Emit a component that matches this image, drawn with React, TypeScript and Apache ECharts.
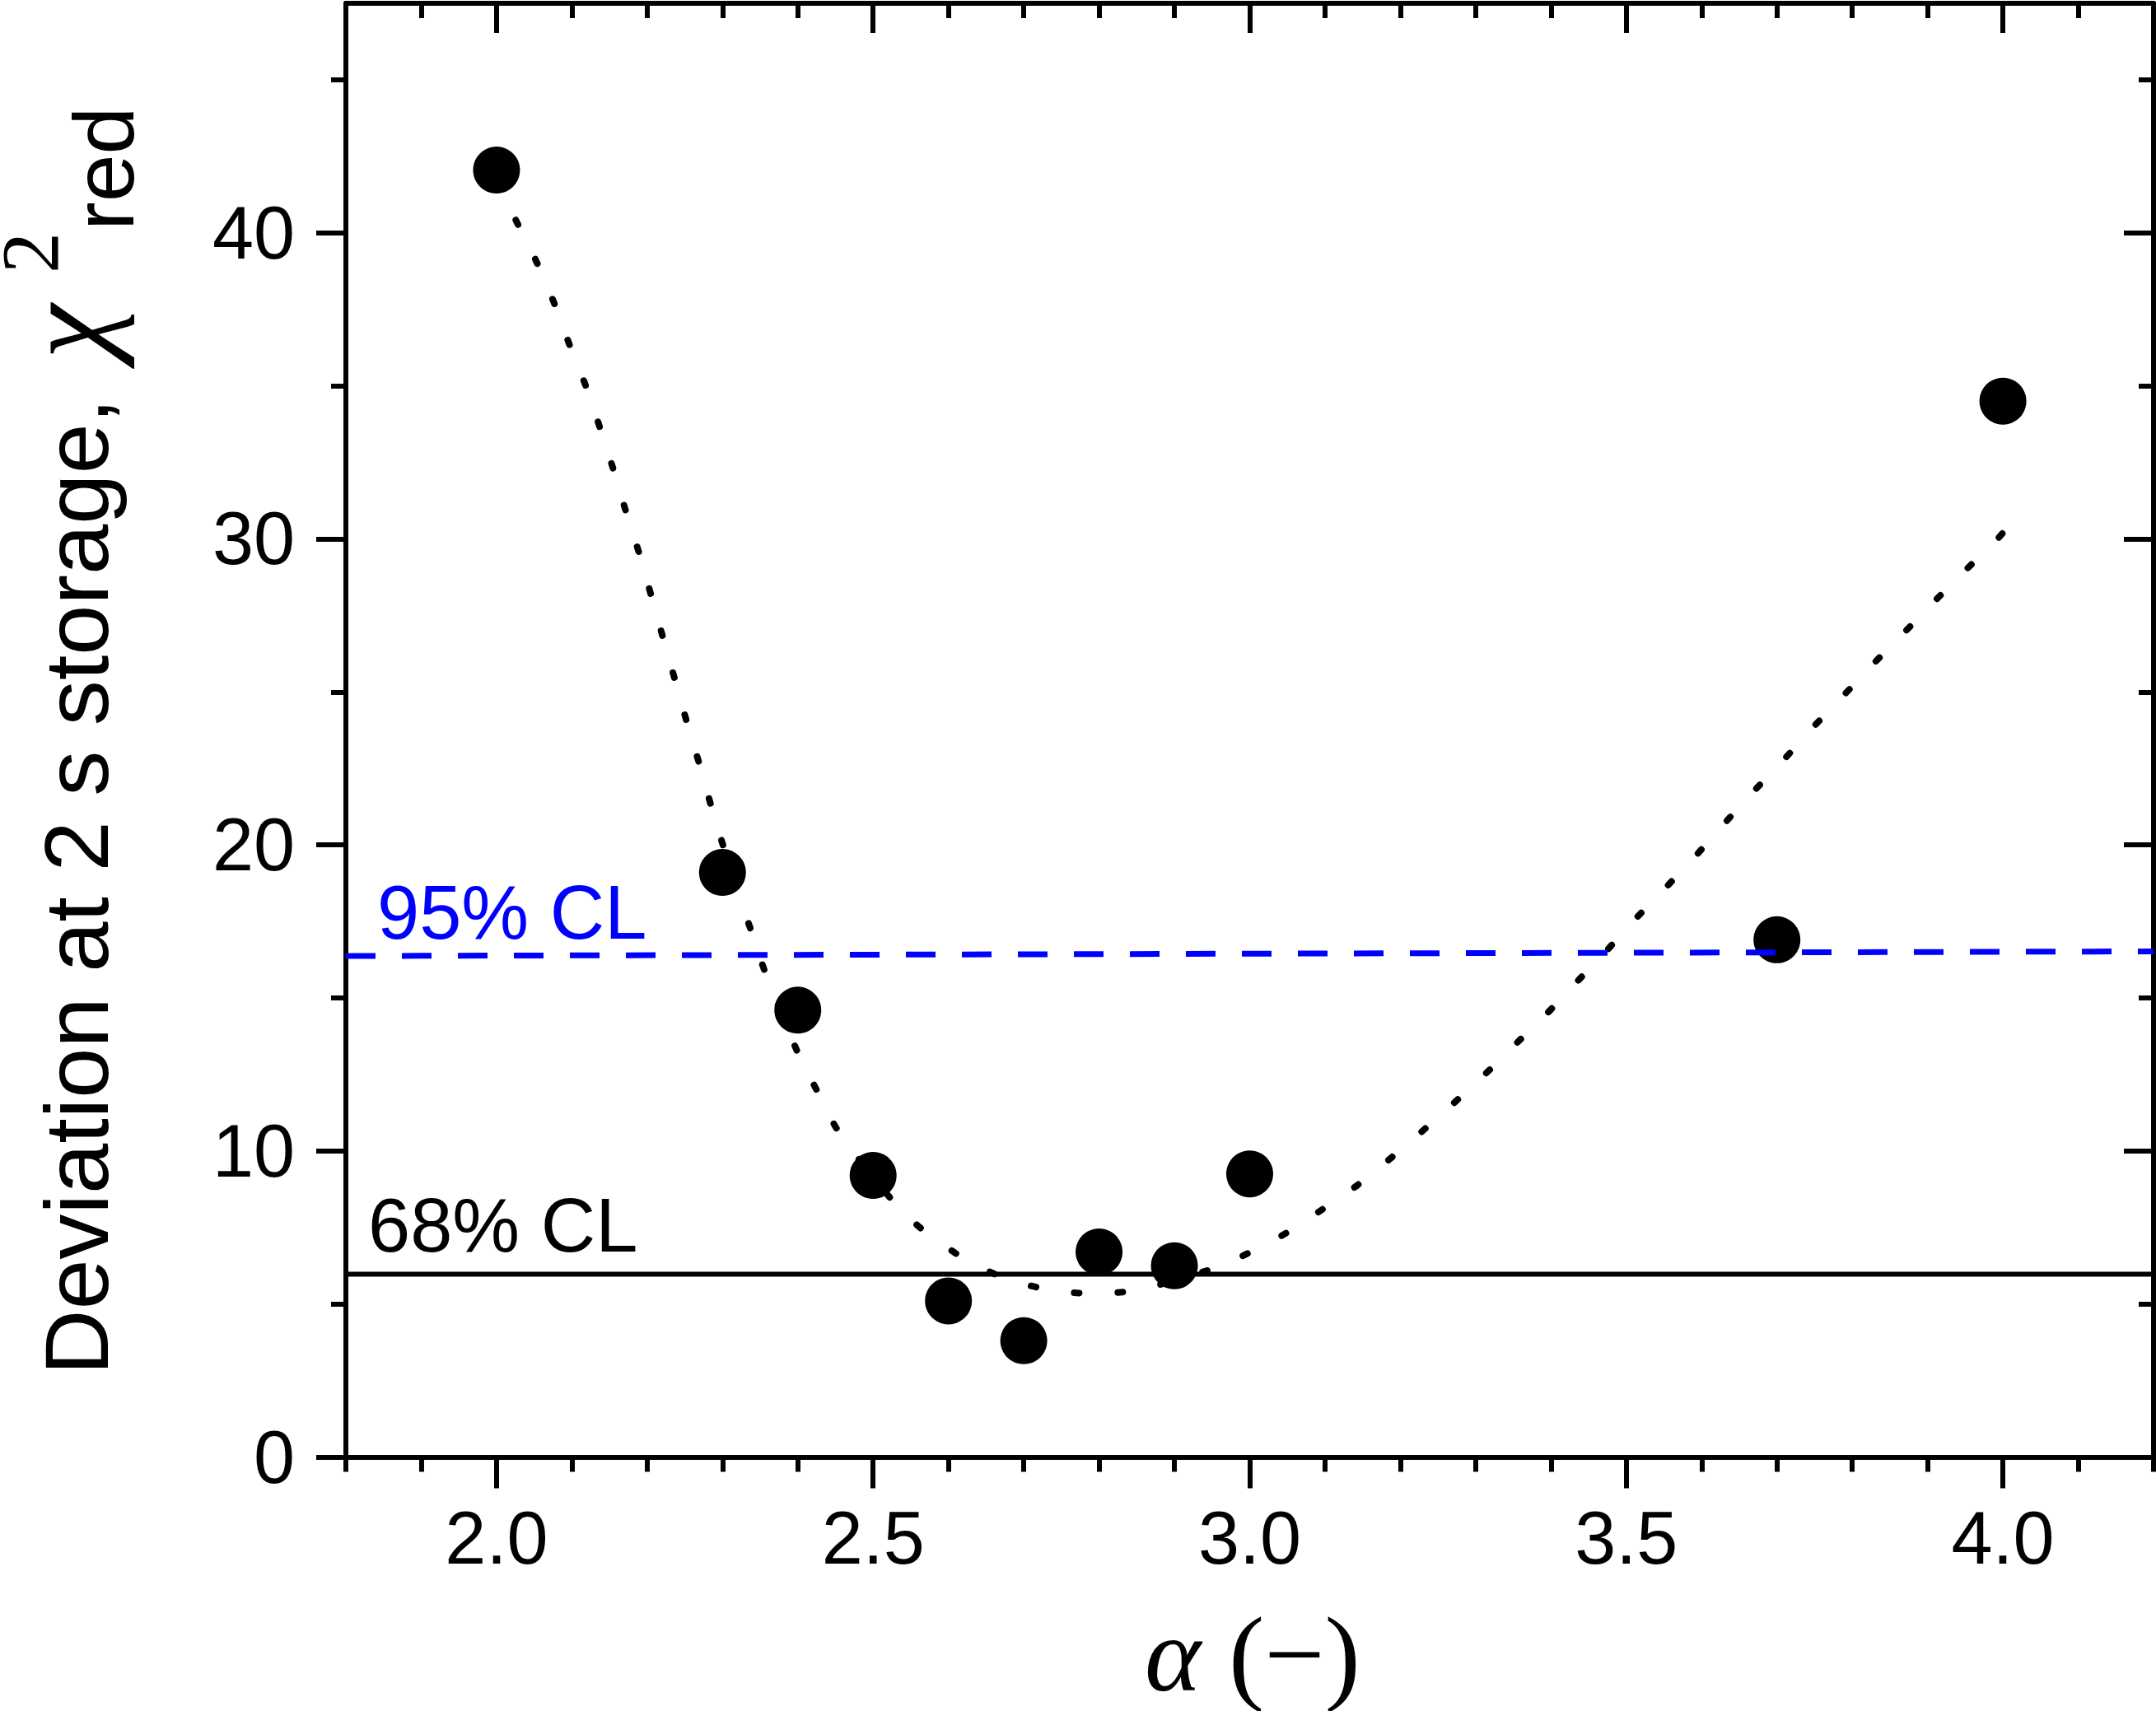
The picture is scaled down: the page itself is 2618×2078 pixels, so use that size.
import React, { useEffect, useRef } from 'react';
import * as echarts from 'echarts';

// Measured data points (alpha, reduced chi^2)
const ALPHA = [2.0, 2.3, 2.4, 2.5, 2.6, 2.7, 2.8, 2.9, 3.0, 3.7, 4.0];
const CHI2 = [42.05, 19.1, 14.6, 9.2, 5.1, 3.8, 6.7, 6.25, 9.25, 16.9, 34.5];

// Dotted fit curve
const FIT_X = [2.0, 2.03, 2.056, 2.079, 2.099, 2.12, 2.139, 2.156, 2.173, 2.191, 2.207, 2.223, 2.238, 2.254, 2.271, 2.287, 2.321, 2.338, 2.358, 2.402, 2.427, 2.455, 2.525, 2.567, 2.62, 2.669, 2.726, 2.784, 2.842, 2.952, 3.003, 3.052, 3.097, 3.144, 3.191, 3.234, 3.277, 3.319, 3.36, 3.395, 3.435, 3.474, 3.514, 3.553, 3.592, 3.631, 3.671, 3.71, 3.749, 3.788, 3.827, 3.869, 3.912, 3.951, 3.993, 4.0];
const FIT_Y = [41.7, 40.2, 38.9, 37.55, 36.2, 34.9, 33.5, 32.2, 30.8, 29.4, 28.0, 26.6, 25.3, 23.9, 22.5, 21.1, 18.4, 17.2, 15.75, 13.1, 11.9, 10.6, 8.4, 7.4, 6.5, 5.9, 5.5, 5.35, 5.42, 6.16, 6.72, 7.37, 8.1, 8.9, 9.84, 10.75, 11.7, 12.66, 13.66, 14.5, 15.54, 16.55, 17.63, 18.62, 19.64, 20.72, 21.8, 22.81, 23.87, 24.87, 25.89, 26.94, 28.03, 28.99, 30.0, 30.2];

// Confidence-level lines
const CL68_X = [1.8, 4.2];
const CL68_Y = [5.97, 5.97];
const CL95_X = [1.8, 4.2];
const CL95_Y = [16.37, 16.52];

// Axes
const X_MIN = 1.8;
const X_MAX = 4.2;
const Y_MIN = 0;
const Y_MAX = 47.5;
const X_MAJOR = [2.0, 2.5, 3.0, 3.5, 4.0];
const X_MINOR = [1.8, 1.9, 2.1, 2.2, 2.3, 2.4, 2.6, 2.7, 2.8, 2.9, 3.1, 3.2, 3.3, 3.4, 3.6, 3.7, 3.8, 3.9, 4.1, 4.2];
const Y_MAJOR = [0, 10, 20, 30, 40];
const Y_MINOR = [5, 15, 25, 35, 45];

const SANS = '"Liberation Sans", Arial, sans-serif';
const SERIF = '"Liberation Serif", "Times New Roman", serif';
const AX = '#000';
const LW = 6;

function axis(kind: 'x' | 'y', position: string, values: number[], len: number, inside: boolean, showLine: boolean, labels: boolean) {
  const isX = kind === 'x';
  return {
    type: 'value',
    position,
    min: isX ? X_MIN : Y_MIN,
    max: isX ? X_MAX : Y_MAX,
    axisLine: { show: showLine, onZero: false, lineStyle: { color: AX, width: LW } },
    axisTick: { show: true, inside, length: len, customValues: values, lineStyle: { color: AX, width: LW } },
    axisLabel: labels
      ? {
          show: true,
          customValues: values,
          formatter: (v: number) => (isX ? v.toFixed(1) : String(v)),
          margin: isX ? 53 : 62,
          fontSize: 90,
          fontFamily: SANS,
          color: '#000',
        }
      : { show: false },
    splitLine: { show: false },
    minorTick: { show: false },
  };
}

function txt(text: string, x: number, y: number, font: string, fill: string, lineHeight: number, rotation = 0) {
  return {
    type: 'text',
    x,
    y,
    rotation,
    z: 100,
    style: {
      text,
      font,
      fill,
      lineHeight,
      align: 'left',
      verticalAlign: 'middle',
      textAlign: 'left',
      textVerticalAlign: 'middle',
    },
  };
}

export default function App() {
  const ref = useRef<HTMLDivElement>(null);
  useEffect(() => {
    if (!ref.current) return;
    const chart = echarts.init(ref.current, null, { renderer: 'svg' });
    const zip = (xs: number[], ys: number[]) => xs.map((x, i) => [x, ys[i]]);
    const R = Math.PI / 2;
    chart.setOption({
      animation: false,
      backgroundColor: '#fff',
      grid: { left: 420, right: 3, top: 4, bottom: 308.5, containLabel: false },
      xAxis: [
        axis('x', 'bottom', X_MAJOR, 38, false, true, true),
        axis('x', 'bottom', X_MINOR, 18, false, false, false),
        axis('x', 'top', X_MAJOR, 36, true, true, false),
        axis('x', 'top', X_MINOR, 18, true, false, false),
      ],
      yAxis: [
        axis('y', 'left', Y_MAJOR, 36, false, true, true),
        axis('y', 'left', Y_MINOR, 18, false, false, false),
        axis('y', 'right', Y_MAJOR, 36, true, true, false),
        axis('y', 'right', Y_MINOR, 18, true, false, false),
      ],
      series: [
        {
          type: 'line',
          data: zip(FIT_X, FIT_Y),
          symbol: 'none',
          showSymbol: false,
          smooth: 0.3,
          z: 1,
          lineStyle: { color: '#000', width: 8, type: [6, 47], cap: 'round' },
        },
        {
          type: 'scatter',
          data: zip(ALPHA, CHI2),
          symbol: 'circle',
          symbolSize: 57,
          z: 2,
          itemStyle: { color: '#000', opacity: 1 },
        },
        {
          type: 'line',
          data: zip(CL95_X, CL95_Y),
          symbol: 'none',
          showSymbol: false,
          z: 3,
          lineStyle: { color: '#0000ff', width: 7, type: [36, 32] },
        },
        {
          type: 'line',
          data: zip(CL68_X, CL68_Y),
          symbol: 'none',
          showSymbol: false,
          z: 3,
          lineStyle: { color: '#000', width: 6, type: 'solid' },
        },
      ],
      graphic: [
        txt('95% CL', 458, 1108, `92px ${SANS}`, '#0000ff', 92),
        txt('68% CL', 447, 1488, `92px ${SANS}`, '#000', 92),
        txt('Deviation at 2 s storage,', 92, 1670, `110px ${SANS}`, '#000', 110, R),
        txt('χ', 80, 436, `italic 150px ${SERIF}`, '#000', 130, R),
        txt('2', 36, 332, `100px ${SERIF}`, '#000', 80, R),
        txt('red', 126, 280, `104px ${SANS}`, '#000', 104, R),
        txt('α', 1390, 2009, `italic 130px ${SERIF}`, '#000', 110),
        txt('(−)', 1492, 2009, `130px ${SERIF}`, '#000', 120),
      ],
    });
    return () => chart.dispose();
  }, []);
  return (
    <div
      ref={ref}
      style={{ position: 'fixed', left: 0, top: 0, width: 2618, height: 2078, background: '#fff' }}
    />
  );
}
